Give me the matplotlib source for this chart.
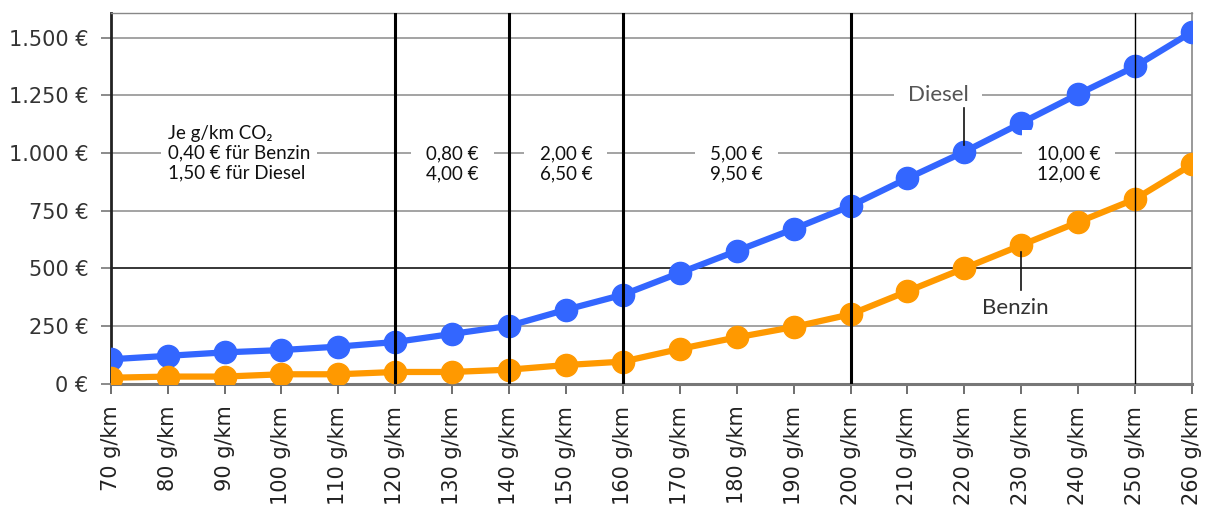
import matplotlib
matplotlib.use("Agg")
import matplotlib.pyplot as plt

# donnees (EUR par an selon CO2)
co2 = [70, 80, 90, 100, 110, 120, 130, 140, 150, 160,
       170, 180, 190, 200, 210, 220, 230, 240, 250, 260]
diesel = [105, 120, 135, 145, 160, 180, 215, 250, 320, 385,
          480, 575, 670, 770, 890, 1005, 1130, 1255, 1375, 1525]
benzin = [25, 30, 30, 40, 40, 50, 50, 60, 80, 95,
          150, 200, 245, 300, 400, 500, 600, 700, 800, 950]
x_labels = [str(v) + " g/km" for v in co2]
y_ticks = [0, 250, 500, 750, 1000, 1250, 1500]
y_labels = ["0 €", "250 €", "500 €", "750 €", "1.000 €", "1.250 €", "1.500 €"]
seuils = [120, 140, 160, 200]
seuil_fin = 250

ann_font = ["Lato", "DejaVu Sans"]

fig = plt.figure(figsize=(12.08, 5.09), dpi=100)
ax = fig.add_axes([110.7 / 1208, 1 - 383.5 / 509, (1192 - 110.7) / 1208, (383.5 - 13) / 509])
ax.set_xlim(70, 260)
ax.set_ylim(0, 1607)

# lignes horizontales
for y in y_ticks[1:]:
    ax.axhline(y, color="black" if y == 500 else "#8a8a8a", lw=1.1, zorder=1)

ax.plot(co2, diesel, "-o", color="#3366ff", lw=4.5, ms=16, zorder=3)
ax.plot(co2, benzin, "-o", color="#ff9900", lw=4.5, ms=16, zorder=3)

# seuils des tranches
for s in seuils:
    ax.axvline(s, color="black", lw=2.2, zorder=4)
ax.axvline(seuil_fin, color="black", lw=1.0, zorder=4)

ax.spines["left"].set_color("#222222")
ax.spines["left"].set_linewidth(2.0)
ax.spines["bottom"].set_color("#777777")
ax.spines["bottom"].set_linewidth(2.2)
ax.spines["top"].set_color("#888888")
ax.spines["top"].set_linewidth(1.0)
ax.spines["right"].set_color("#888888")
ax.spines["right"].set_linewidth(1.2)

ax.set_xticks(co2)
ax.set_xticklabels(x_labels, rotation=90, fontsize=15, color="#222222")
ax.set_yticks(y_ticks)
ax.set_yticklabels(y_labels, fontsize=15, color="#333333")
ax.tick_params(axis="x", length=7, width=1.2, color="#555555", pad=9)
ax.tick_params(axis="y", length=7, width=1.2, color="#777777", pad=9)

# textes des tranches
ax.text(80, 1000, "Je g/km CO₂\n0,40 € für Benzin\n1,50 € für Diesel", ha="left", va="center",
        fontsize=13.5, family=ann_font, color="#111111", zorder=5,
        bbox=dict(facecolor="white", edgecolor="none", pad=5))
for xt, txt in [(130, "0,80 €\n4,00 €"), (150, "2,00 €\n6,50 €"),
                (180, "5,00 €\n9,50 €"), (238.3, "10,00 €\n12,00 €")]:
    ax.text(xt, 952, txt, ha="center", va="center", fontsize=13.5, family=ann_font,
            color="#111111", zorder=5, bbox=dict(facecolor="white", edgecolor="none", pad=11))

ax.text(215.4, 1250, "Diesel", ha="center", va="center", fontsize=16, family=ann_font,
        color="#555555", zorder=5, bbox=dict(facecolor="white", edgecolor="none", pad=10))
ax.plot([220, 220], [1195, 1035], color="#111111", lw=1.2, zorder=6)
ax.text(228.9, 327, "Benzin", ha="center", va="center", fontsize=16, family=ann_font,
        color="#333333", zorder=5)
ax.plot([230, 230], [570, 405], color="#111111", lw=1.2, zorder=6)

fig.savefig("out.png", dpi=100)
